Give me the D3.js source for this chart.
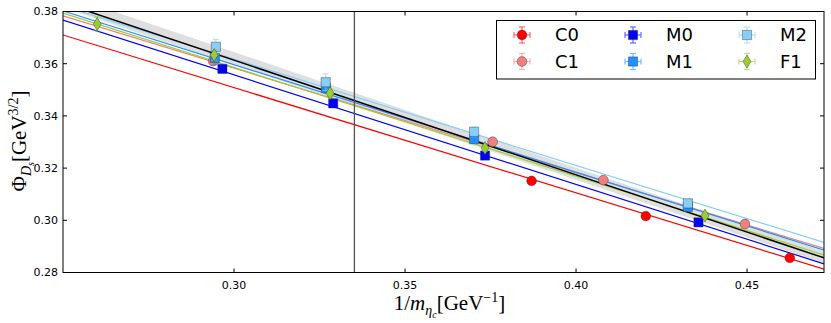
<!DOCTYPE html>
<html>
<head>
<meta charset="utf-8">
<script src="https://cdn.jsdelivr.net/npm/d3@7"></script>
<style>
  body { margin: 0; background: #fff; }
  svg text { font-family: "DejaVu Sans", sans-serif; }
  .math { font-family: "Liberation Serif", "DejaVu Serif", serif; }
</style>
</head>
<body>
<div id="chart"></div>
<script>
// ensembles, colors, markers
var names   = ["C0", "C1", "M0", "M1", "M2", "F1"];
var colors  = ["#ff0000", "#f08080", "#0000ff", "#1e90ff", "#87cefa", "#9acd32"];
var symbols = ["circle", "circle", "square", "square", "square", "diamond"];

// data points per ensemble (x = 1/m_etac, y = Phi_Ds, dy = error)
var xC0 = [0.3870, 0.4204, 0.4625];
var yC0 = [0.3151, 0.3016, 0.2856];
var eC0 = [0.0004, 0.0004, 0.0004];

var xC1 = [0.2939, 0.3756, 0.4080, 0.4494];
var yC1 = [0.3610, 0.3301, 0.3154, 0.2986];
var eC1 = [0.0015, 0.0006, 0.0005, 0.0005];

var xM0 = [0.2966, 0.3290, 0.3734, 0.4358];
var yM0 = [0.3580, 0.3448, 0.3248, 0.2992];
var eM0 = [0.0008, 0.0007, 0.0006, 0.0005];

var xM1 = [0.2944, 0.3269, 0.3702, 0.4327];
var yM1 = [0.3622, 0.3507, 0.3311, 0.3051];
var eM1 = [0.0025, 0.0020, 0.0015, 0.0012];

var xM2 = [0.2947, 0.3268, 0.3702, 0.4327];
var yM2 = [0.3665, 0.3529, 0.3339, 0.3065];
var eM2 = [0.0028, 0.0032, 0.0018, 0.0015];

var xF1 = [0.2600, 0.2942, 0.3281, 0.3734, 0.4377];
var yF1 = [0.3752, 0.3633, 0.3487, 0.3277, 0.3018];
var eF1 = [0.0026, 0.0020, 0.0015, 0.0012, 0.0010];

// fitted lines: value at left and right end of x range
var lineX     = [0.25, 0.4725];
var lineC0    = [0.3710, 0.2813];
var lineC1    = [0.3783, 0.2892];
var lineM0    = [0.3767, 0.2833];
var lineM1    = [0.3802, 0.2886];
var lineM2    = [0.3821, 0.2915];
var lineF1    = [0.3794, 0.2867];
var lineFit   = [0.3833, 0.2856];
var bandUpper = [0.3866, 0.2880];
var bandLower = [0.3815, 0.2836];

var physX = 0.3352; // physical eta_c point

var xTicks = [0.30, 0.35, 0.40, 0.45];
var yTicks = [0.28, 0.30, 0.32, 0.34, 0.36, 0.38];

var pts = { C0: [xC0, yC0, eC0], C1: [xC1, yC1, eC1], M0: [xM0, yM0, eM0],
            M1: [xM1, yM1, eM1], M2: [xM2, yM2, eM2], F1: [xF1, yF1, eF1] };
var lines = { C0: lineC0, C1: lineC1, M0: lineM0, M1: lineM1, M2: lineM2, F1: lineF1 };

//Scaling and dimensions
var width = 831, height = 323;
var margin = { left: 63, right: 7, top: 11.5, bottom: 50.5 };
var iw = width - margin.left - margin.right,
    ih = height - margin.top - margin.bottom;

var svg = d3.select("#chart").append("svg")
    .attr("width", width).attr("height", height);

var g = svg.append("g")
    .attr("transform", `translate(${margin.left},${margin.top})`);

var x = d3.scaleLinear().domain([0.25, 0.4725]).range([0, iw]);
var y = d3.scaleLinear().domain([0.28, 0.38]).range([ih, 0]);

g.append("clipPath").attr("id", "clip")
  .append("rect").attr("width", iw).attr("height", ih);

var plot = g.append("g").attr("clip-path", "url(#clip)");

// error band of the fit
var bandData = lineX.map((v, i) => ({ x: v, lo: bandLower[i], hi: bandUpper[i] }));
plot.append("path")
  .datum(bandData)
  .attr("fill", "#c4c4c4")
  .attr("opacity", 0.55)
  .attr("d", d3.area().x(d => x(d.x)).y0(d => y(d.lo)).y1(d => y(d.hi)));

var line = d3.line().x(d => x(d[0])).y(d => y(d[1]));

// ensemble lines
names.forEach(function (n, i) {
  plot.append("path")
    .datum(lineX.map((v, j) => [v, lines[n][j]]))
    .attr("fill", "none")
    .attr("stroke", colors[i])
    .attr("stroke-width", 1.2)
    .attr("d", line);
});

// fit at physical point
plot.append("path")
  .datum(lineX.map((v, j) => [v, lineFit[j]]))
  .attr("fill", "none")
  .attr("stroke", "#000")
  .attr("stroke-width", 1.5)
  .attr("d", line);

// vertical line at physical mass
plot.append("line")
  .attr("x1", x(physX)).attr("x2", x(physX))
  .attr("y1", 0).attr("y2", ih)
  .attr("stroke", "#555").attr("stroke-width", 1.3);

function symbolPath(type) {
  if (type == "circle") return d3.symbol().type(d3.symbolCircle).size(75)();
  if (type == "square") return d3.symbol().type(d3.symbolSquare).size(85)();
  // thin diamond (taller than wide)
  return "M0,-6.5L4,0L0,6.5L-4,0Z";
}

function drawMarker(sel, cx, cy, i, dyPx, dxPx) {
  var col = colors[i];
  var eb = sel.append("g").attr("stroke", col).attr("stroke-width", 1.2).attr("opacity", 0.6);
  eb.append("line").attr("x1", cx).attr("x2", cx).attr("y1", cy - dyPx).attr("y2", cy + dyPx);
  eb.append("line").attr("x1", cx - 3).attr("x2", cx + 3).attr("y1", cy - dyPx).attr("y2", cy - dyPx);
  eb.append("line").attr("x1", cx - 3).attr("x2", cx + 3).attr("y1", cy + dyPx).attr("y2", cy + dyPx);
  eb.append("line").attr("x1", cx - dxPx).attr("x2", cx + dxPx).attr("y1", cy).attr("y2", cy);
  eb.append("line").attr("x1", cx - dxPx).attr("x2", cx - dxPx).attr("y1", cy - 3).attr("y2", cy + 3);
  eb.append("line").attr("x1", cx + dxPx).attr("x2", cx + dxPx).attr("y1", cy - 3).attr("y2", cy + 3);
  sel.append("path")
    .attr("d", symbolPath(symbols[i]))
    .attr("transform", `translate(${cx},${cy})`)
    .attr("fill", col)
    .attr("stroke", "#333")
    .attr("stroke-opacity", 0.6)
    .attr("stroke-width", 0.7);
}

// data points
var ptsG = g.append("g");
names.forEach(function (n, i) {
  var p = pts[n];
  p[0].forEach(function (xv, k) {
    var cx = x(xv), cy = y(p[1][k]);
    var dy = y(p[1][k] - p[2][k]) - cy;
    drawMarker(ptsG, cx, cy, i, dy, 0);
  });
});

// frame and ticks (inside, all four sides)
g.append("rect").attr("width", iw).attr("height", ih)
  .attr("fill", "none").attr("stroke", "#000").attr("stroke-width", 1);

var tickLen = 4;
xTicks.forEach(function (t) {
  g.append("line").attr("x1", x(t)).attr("x2", x(t)).attr("y1", ih).attr("y2", ih - tickLen).attr("stroke", "#000");
  g.append("line").attr("x1", x(t)).attr("x2", x(t)).attr("y1", 0).attr("y2", tickLen).attr("stroke", "#000");
  g.append("text").attr("x", x(t)).attr("y", ih + 16)
    .attr("text-anchor", "middle").style("font-size", "11px").text(d3.format(".2f")(t));
});
yTicks.forEach(function (t) {
  g.append("line").attr("x1", 0).attr("x2", tickLen).attr("y1", y(t)).attr("y2", y(t)).attr("stroke", "#000");
  g.append("line").attr("x1", iw).attr("x2", iw - tickLen).attr("y1", y(t)).attr("y2", y(t)).attr("stroke", "#000");
  g.append("text").attr("x", -5).attr("y", y(t)).attr("dy", "0.35em")
    .attr("text-anchor", "end").style("font-size", "11px").text(d3.format(".2f")(t));
});

// axis labels
var xl = svg.append("text").attr("class", "math")
  .attr("x", margin.left + iw / 2 + 6).attr("y", 310)
  .attr("text-anchor", "middle").style("font-size", "21px");
xl.append("tspan").text("1/");
xl.append("tspan").style("font-style", "italic").text("m");
xl.append("tspan").attr("dy", 5).style("font-size", "14px").style("font-style", "italic").text("η");
xl.append("tspan").attr("dy", 3).style("font-size", "10px").style("font-style", "italic").text("c");
xl.append("tspan").attr("dy", -8).text("[GeV");
xl.append("tspan").attr("dy", -8).style("font-size", "14px").text("−1");
xl.append("tspan").attr("dy", 8).text("]");

var yl = svg.append("text").attr("class", "math")
  .attr("transform", "translate(26,141) rotate(-90)")
  .attr("text-anchor", "middle").style("font-size", "21px");
yl.append("tspan").text("Φ");
yl.append("tspan").attr("dy", 5).style("font-size", "14px").style("font-style", "italic").text("D");
yl.append("tspan").attr("dy", 3).style("font-size", "10px").style("font-style", "italic").text("s");
yl.append("tspan").attr("dy", -8).text("[GeV");
yl.append("tspan").attr("dy", -8).style("font-size", "14px").text("3/2");
yl.append("tspan").attr("dy", 8).text("]");

// legend
var lg = svg.append("g");
lg.append("rect").attr("x", 496.5).attr("y", 20.5).attr("width", 319).attr("height", 58.5)
  .attr("fill", "#fff").attr("stroke", "#000").attr("stroke-width", 1);
var colX = [522, 633, 747];
var rowY = [35, 61.5];
names.forEach(function (n, i) {
  var c = Math.floor(i / 2), r = i % 2;
  drawMarker(lg, colX[c], rowY[r], i, 8, 8);
  lg.append("text").attr("x", colX[c] + 33).attr("y", rowY[r]).attr("dy", "0.36em")
    .style("font-size", "18px").text(n);
});
</script>
</body>
</html>
